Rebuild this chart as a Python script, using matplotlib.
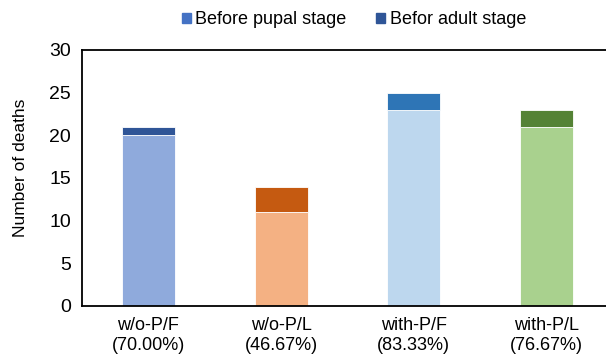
import matplotlib
matplotlib.use("Agg")
import matplotlib.pyplot as plt
from matplotlib.patches import Patch

plt.rcParams['font.family'] = ['Liberation Sans', 'DejaVu Sans']

groups = ["w/o-P/F\n(70.00%)", "w/o-P/L\n(46.67%)", "with-P/F\n(83.33%)", "with-P/L\n(76.67%)"]
before_pupal = [20, 11, 23, 21]
before_adult = [1, 3, 2, 2]

pupal_colors = ["#8faadc", "#f4b183", "#bdd7ee", "#a9d18e"]
adult_colors = ["#2f5597", "#c55a11", "#2e75b6", "#548235"]

fig = plt.figure(figsize=(6.06, 3.61), dpi=100)
ax = fig.add_axes([0.1353, 0.1524, 0.8762, 0.7091])

x = range(len(groups))
ax.bar(x, before_pupal, width=0.4, color=pupal_colors, edgecolor="#ffffff", linewidth=0.6)
ax.bar(x, before_adult, width=0.4, bottom=before_pupal, color=adult_colors,
       edgecolor="#ffffff", linewidth=0.6)

ax.set_xlim(-0.5, 3.5)
ax.set_ylim(0, 30)
ax.set_yticks(range(0, 31, 5))
ax.set_xticks(list(x))
ax.set_xticklabels(groups, fontsize=13, linespacing=1.25)
ax.tick_params(axis="both", length=0, colors="#000000")
ax.tick_params(axis="x", pad=8)
ax.tick_params(axis="y", pad=8, labelsize=14)
ax.set_ylabel("Number of deaths", fontsize=12.5)
ax.yaxis.set_label_coords(-0.102, 0.54)

for side in ["left", "bottom", "top", "right"]:
    ax.spines[side].set_linewidth(1.3)
    ax.spines[side].set_color("#000000")

handles = [Patch(color="#4472c4", label="Before pupal stage"),
           Patch(color="#2f5597", label="Befor adult stage")]
fig.legend(handles=handles, loc="center", bbox_to_anchor=(0.584, 0.945), ncol=2,
           frameon=False, fontsize=13, handlelength=0.5, handleheight=0.5,
           handletextpad=0.25, columnspacing=1.65)

fig.savefig("out.png", dpi=100)
